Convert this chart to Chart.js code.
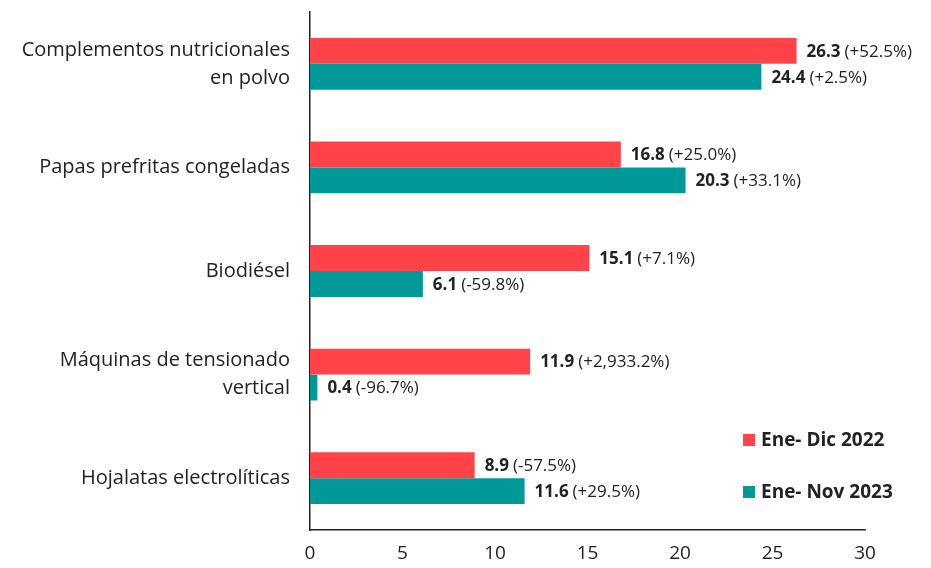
<!DOCTYPE html>
<html>
<head>
<meta charset="utf-8">
<script src="https://cdn.jsdelivr.net/npm/chart.js@4.4.1/dist/chart.umd.min.js"></script>
<style>
  html, body { margin: 0; padding: 0; background: #fff; }
  #wrap { width: 931px; height: 568px; }
</style>
</head>
<body>
<div id="wrap"><canvas id="chart"></canvas></div>
<script>
// Categories and values
const categories = [
    ['Complementos nutricionales', 'en polvo'],
    'Papas prefritas congeladas',
    'Biodiésel',
    ['Máquinas de tensionado', 'vertical'],
    'Hojalatas electrolíticas'
];
const values2022 = [26.3, 16.8, 15.1, 11.9, 8.9];
const values2023 = [24.4, 20.3, 6.1, 0.4, 11.6];
const change2022 = ['(+52.5%)', '(+25.0%)', '(+7.1%)', '(+2,933.2%)', '(-57.5%)'];
const change2023 = ['(+2.5%)', '(+33.1%)', '(-59.8%)', '(-96.7%)', '(+29.5%)'];
const xTicks = [0, 5, 10, 15, 20, 25, 30];

const RED = '#FF4349';
const TEAL = '#009997';
const FONT = '"Open Sans", sans-serif';

// draws "value (pct)" next to each bar
const barLabels = {
    id: 'barLabels',
    afterDatasetsDraw(chart) {
        const ctx = chart.ctx;
        const changes = [change2022, change2023];
        ctx.save();
        ctx.textBaseline = 'middle';
        chart.data.datasets.forEach((ds, i) => {
            chart.getDatasetMeta(i).data.forEach((bar, j) => {
                let x = bar.x + 10;
                const y = bar.y + 1;
                const v = ds.data[j].toFixed(1);
                ctx.font = 'bold 17px ' + FONT;
                ctx.fillStyle = '#222';
                ctx.fillText(v, x, y);
                x += ctx.measureText(v).width + 4;
                ctx.font = '17px ' + FONT;
                ctx.fillText(changes[i][j], x, y);
            });
        });
        ctx.restore();
    }
};

// legend drawn inside the plot, bottom right
const boxLegend = {
    id: 'boxLegend',
    afterDraw(chart) {
        const ctx = chart.ctx;
        ctx.save();
        ctx.textBaseline = 'middle';
        ctx.font = 'bold 19px ' + FONT;
        chart.data.datasets.forEach((ds, i) => {
            const y = 440 + i * 52;
            ctx.fillStyle = ds.backgroundColor;
            ctx.fillRect(743, y - 6, 12, 12);
            ctx.fillStyle = '#222';
            ctx.fillText(ds.label, 761, y + 1);
        });
        ctx.restore();
    }
};

new Chart(document.getElementById('chart').getContext('2d'), {
    type: 'bar',
    data: {
        labels: categories,
        datasets: [
            { label: 'Ene- Dic 2022', data: values2022, backgroundColor: RED },
            { label: 'Ene- Nov 2023', data: values2023, backgroundColor: TEAL }
        ]
    },
    options: {
        indexAxis: 'y',
        responsive: true,
        maintainAspectRatio: false,
        animation: false,
        layout: { padding: { top: 12, right: 66, left: 0, bottom: 4 } },
        datasets: { bar: { categoryPercentage: 0.5, barPercentage: 1.0 } },
        scales: {
            x: {
                min: 0,
                max: 30,
                afterBuildTicks: (scale) => { scale.ticks = xTicks.map(v => ({ value: v })); },
                afterFit: (scale) => { scale.height = 34; scale.paddingLeft = 0; scale.paddingRight = 0; },
                grid: { display: false, drawTicks: false },
                border: { display: true, color: '#222', width: 1.5 },
                ticks: { color: '#222', font: { family: FONT, size: 19 }, padding: 12 }
            },
            y: {
                grid: { display: false, drawTicks: false },
                border: { display: true, color: '#222', width: 1.5 },
                afterFit: (scale) => { scale.width = 310; scale.paddingTop = 0; scale.paddingBottom = 0; },
                ticks: { color: '#222', font: { family: FONT, size: 20, lineHeight: 1.4 }, padding: 20 }
            }
        },
        plugins: {
            legend: { display: false },
            tooltip: { enabled: false }
        }
    },
    plugins: [barLabels, boxLegend]
});
</script>
</body>
</html>
